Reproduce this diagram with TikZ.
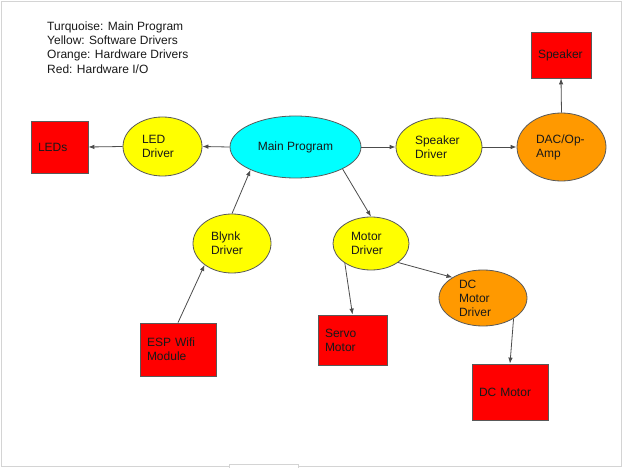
\documentclass[tikz,border=0pt]{standalone}
\usepackage{fontspec}
\setmainfont{Liberation Sans}
\usetikzlibrary{shapes.geometric,arrows.meta}
\definecolor{turq}{HTML}{00FFFF}
\definecolor{yel}{HTML}{FFFF00}
\definecolor{org}{HTML}{FF9900}
\definecolor{rd}{HTML}{FF0000}
\definecolor{edgec}{HTML}{595959}
\definecolor{framec}{HTML}{D4D4D4}
\begin{document}
\begin{tikzpicture}[x=1pt,y=-1pt,
  every node/.style={font=\fontsize{12}{14}\selectfont, text=black!90, inner sep=0pt},
  ell/.style={ellipse, draw=edgec, line width=0.8pt, align=left},
  box/.style={rectangle, draw=edgec, line width=0.8pt, fill=rd, align=left, inner xsep=7pt},
  conn/.style={draw=black!70, line width=0.8pt, -{Latex[length=6pt,width=4.5pt]}}]
\useasboundingbox (0,0) rectangle (624,468);
\fill[white] (0,0) rectangle (624,468);
\draw[framec, line width=1pt] (1.5,1.5) rectangle (621.5,466.5);
\draw[framec, fill=white, line width=1pt] (229.5,464.5) rectangle (298.5,472);

% legend
\node[anchor=north west, align=left, font=\fontsize{12}{14.3}\selectfont] (legend) at (47,21.5)
  {Turquoise: Main Program\\Yellow: Software Drivers\\Orange: Hardware Drivers\\Red: Hardware I/O};

% nodes
\node[ell, fill=turq, minimum width=131pt, minimum height=62pt] (main) at (295.5,147) {Main Program};
\node[ell, fill=yel, minimum width=79pt, minimum height=59pt, text width=41pt] (led) at (162.5,146.5) {LED\\Driver};
\node[box, minimum width=57pt, minimum height=52pt, text width=43pt] (leds) at (59.5,147) {LEDs};
\node[ell, fill=yel, minimum width=86pt, minimum height=58pt, text width=48pt] (spkd) at (439,147) {Speaker\\Driver};
\node[ell, fill=org, minimum width=89pt, minimum height=68pt, text width=51pt] (dac) at (561.5,147) {DAC/Op-\\Amp};
\node[box, minimum width=60pt, minimum height=46pt, text width=46pt] (spk) at (561,55) {Speaker};
\node[ell, fill=yel, minimum width=78pt, minimum height=59pt, text width=42pt] (blynk) at (232,243.5) {Blynk\\Driver};
\node[box, minimum width=76pt, minimum height=53pt, text width=62pt] (esp) at (178,349.5) {ESP Wifi\\Module};
\node[ell, fill=yel, minimum width=76pt, minimum height=53pt, text width=40pt] (motor) at (371,243.5) {Motor\\Driver};
\node[ell, fill=org, minimum width=88pt, minimum height=56pt, text width=48pt] (dcmd) at (483,298) {DC\\Motor\\Driver};
\node[box, minimum width=69pt, minimum height=50pt, text width=55pt] (servo) at (352.5,340) {Servo\\Motor};
\node[box, minimum width=76pt, minimum height=56pt, text width=62pt] (dcm) at (510,392) {DC Motor};

% connectors
\draw[conn] (main.west) -- (led.east);
\draw[conn] (led.west) -- (leds.east);
\draw[conn] (main.east) -- (spkd.west);
\draw[conn] (spkd.east) -- (dac.west);
\draw[conn] (dac.north) -- (spk.south);
\draw[conn] (blynk.north) -- (main.207);
\draw[conn] (esp.north) -- (blynk.-142);
\draw[conn] (main.-25) -- (motor.north);
\draw[conn] (motor.-143) -- (servo.north);
\draw[conn] (motor.-35) -- (dcmd.146);
\draw[conn] (dcmd.-34) -- (dcm.north);
\end{tikzpicture}
\end{document}
